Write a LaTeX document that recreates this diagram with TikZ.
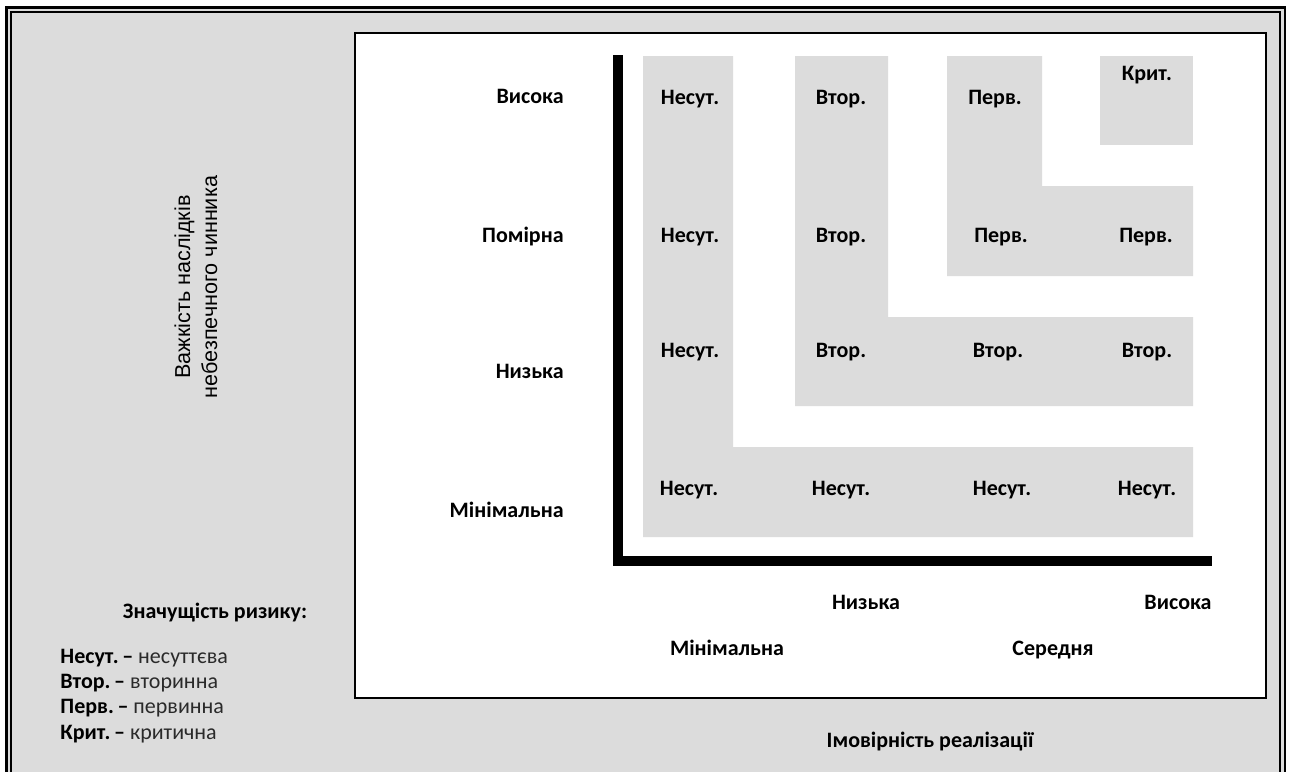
\documentclass[tikz,border=0pt]{standalone}
\usepackage{fontspec}
\setmainfont{Carlito}
\newfontfamily\arialfont{Liberation Sans}
\usetikzlibrary{positioning}
\definecolor{bggray}{HTML}{DCDCDC}
\definecolor{cellgray}{HTML}{DCDCDC}
\definecolor{desctext}{HTML}{2A2A2A}

\begin{document}
\begin{tikzpicture}[
  x=0.5pt, y=-0.5pt,
  cell/.style={fill=cellgray, draw=none},
  lbl/.style={font=\fontsize{11}{13}\selectfont\bfseries, inner sep=0pt, anchor=base},
  rowlbl/.style={lbl, anchor=base east},
  legend/.style={font=\fontsize{11}{13}\selectfont, inner sep=0pt, anchor=base west},
  axis/.style={line width=5pt}
]
  \useasboundingbox (0,0) rectangle (1299,771);

  % Outer frame
  \fill[bggray] (6.5,7.5) rectangle (1285,790);
  \draw[line width=1.25pt] (6.5,790) -- (6.5,7.5) -- (1285,7.5) -- (1285,790);
  \draw[line width=0.75pt] (11,790) -- (11,12) -- (1280,12) -- (1280,790);

  % Chart panel
  \draw[fill=white, line width=1pt] (355,33) rectangle (1266,698);

  % Risk zones
  \fill[cell] (643,56) -- (733,56) -- (733,447) -- (1193,447) -- (1193,537) -- (643,537) -- cycle;
  \fill[cell] (795,56) -- (888,56) -- (888,317) -- (1193,317) -- (1193,406) -- (795,406) -- cycle;
  \fill[cell] (947,56) -- (1042,56) -- (1042,186) -- (1193,186) -- (1193,276) -- (947,276) -- cycle;
  \fill[cell] (1100,56) rectangle (1193,145);

  % Axes
  \coordinate (origin) at (618,561);
  \coordinate (ytop) at (618,55);
  \coordinate (xend) at (1212,561);
  \draw[axis] (ytop) -- (618,566) ;
  \draw[axis] (613,561) -- (xend);

  % Severity levels
  \node[rowlbl] (sevhigh) at (564,103) {Висока};
  \node[rowlbl] (sevmod) at (564,242) {Помірна};
  \node[rowlbl] (sevlow) at (564,378) {Низька};
  \node[rowlbl] (sevmin) at (564,517) {Мінімальна};

  % Severity title
  \node[rotate=90, align=center, inner sep=0pt, text=black,
        font=\arialfont\fontsize{10.8}{13.5}\selectfont] (sevtitle) at (196,287)
    {Важкість наслідків\\небезпечного чинника};

  % Likelihood levels
  \node[lbl] (likmin) at (727,655) {Мінімальна};
  \node[lbl] (liklow) at (866,609) {Низька};
  \node[lbl] (likmid) at (1053,655) {Середня};
  \node[lbl] (likhigh) at (1178,609) {Висока};
  \node[lbl] (liktitle) at (930,747) {Імовірність реалізації};

  % Cells: high severity
  \node[lbl] (c11) at (690,104) {Несут.};
  \node[lbl] (c12) at (841,104) {Втор.};
  \node[lbl] (c13) at (995,104) {Перв.};
  \node[lbl] (c14) at (1147,80) {Крит.};

  % Cells: moderate severity
  \node[lbl] (c21) at (690,242) {Несут.};
  \node[lbl] (c22) at (841,242) {Втор.};
  \node[lbl] (c23) at (1001,242) {Перв.};
  \node[lbl] (c24) at (1146,242) {Перв.};

  % Cells: low severity
  \node[lbl] (c31) at (690,357) {Несут.};
  \node[lbl] (c32) at (841,357) {Втор.};
  \node[lbl] (c33) at (998,357) {Втор.};
  \node[lbl] (c34) at (1147,357) {Втор.};

  % Cells: minimal severity
  \node[lbl] (c41) at (689,495) {Несут.};
  \node[lbl] (c42) at (841,495) {Несут.};
  \node[lbl] (c43) at (1002,495) {Несут.};
  \node[lbl] (c44) at (1147,495) {Несут.};

  % Legend
  \node[lbl] (legtitle) at (215,618) {Значущість ризику:};
  \node[legend] (leg1) at (60,663) {\textbf{Несут.\,–} \textcolor{desctext}{несуттєва}};
  \node[legend] (leg2) at (60,688) {\textbf{Втор.\,–} \textcolor{desctext}{вторинна}};
  \node[legend] (leg3) at (60,713) {\textbf{Перв.\,–} \textcolor{desctext}{первинна}};
  \node[legend] (leg4) at (60,739) {\textbf{Крит.\,–} \textcolor{desctext}{критична}};
\end{tikzpicture}
\end{document}
